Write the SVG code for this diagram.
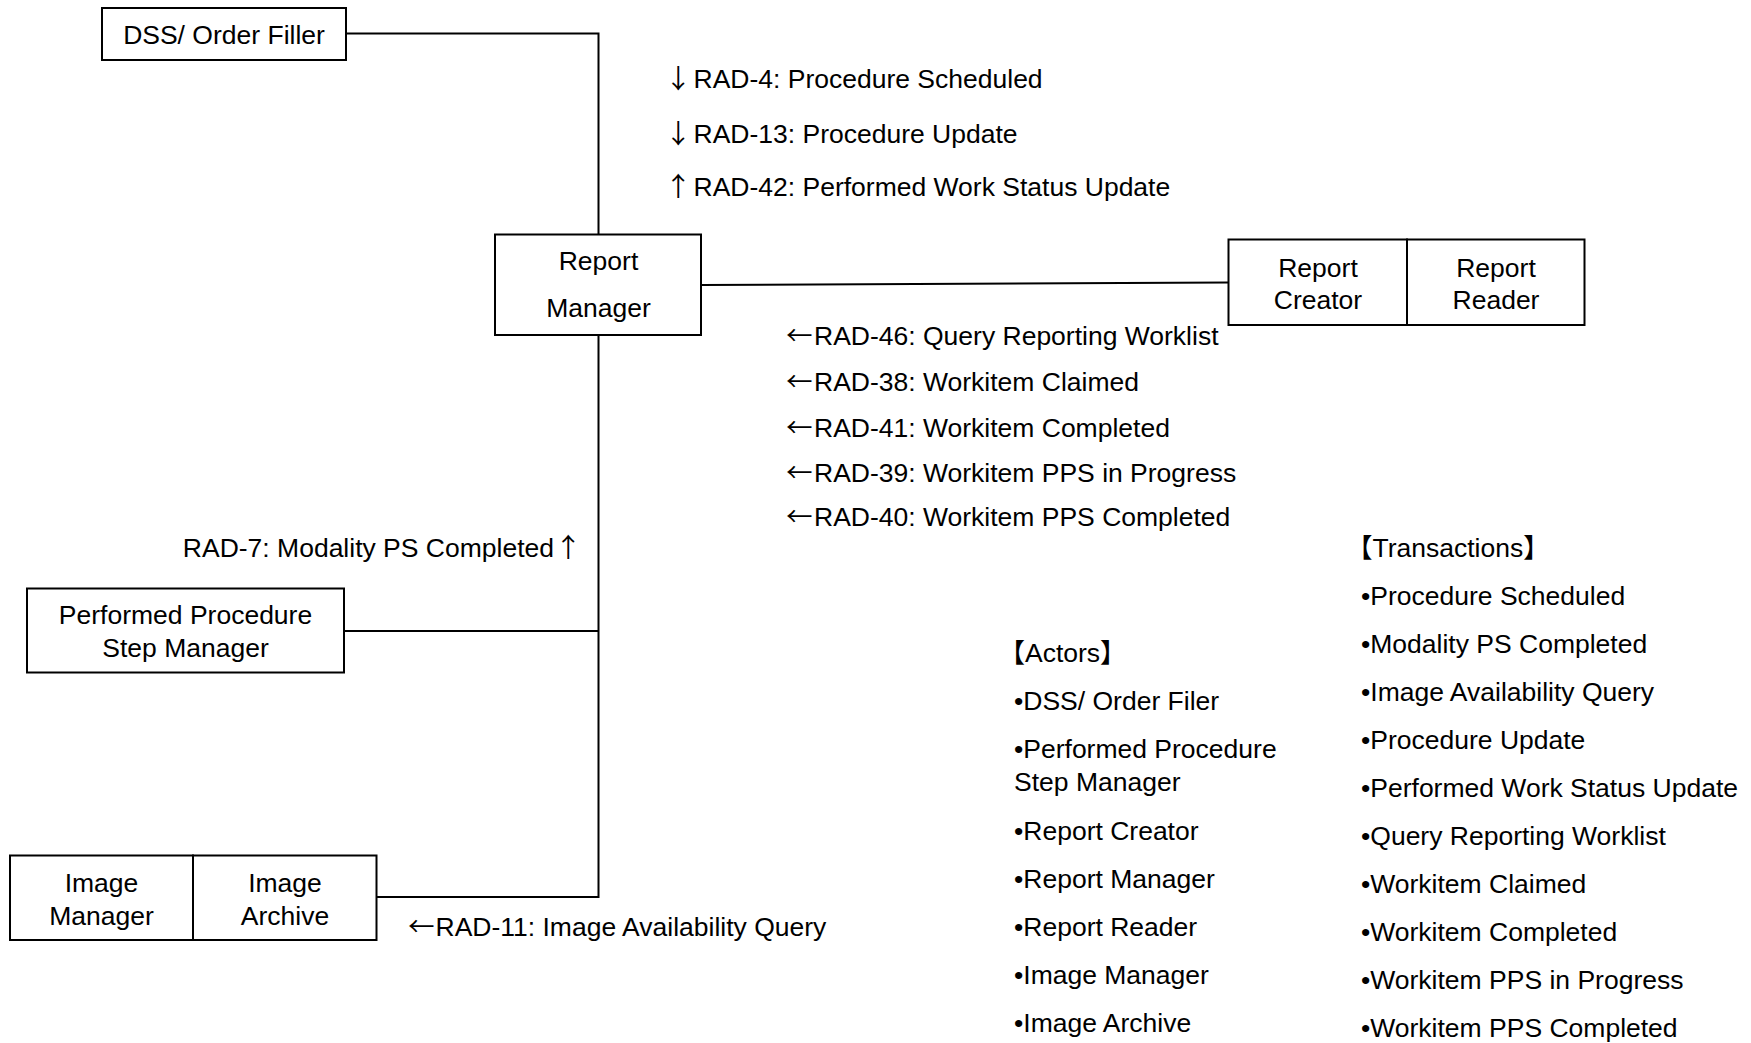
<svg xmlns="http://www.w3.org/2000/svg" width="1751" height="1043" viewBox="0 0 1751 1043">
<style>
text{font-family:"Liberation Sans",Arial,"Noto Sans CJK SC",sans-serif;font-size:26.5px;fill:#000}
.c{text-anchor:middle}
.ar{font-family:"Noto Sans CJK SC","Noto Sans CJK JP",sans-serif;font-weight:400}
.box{fill:#fff;stroke:#000;stroke-width:2}
.ln{fill:none;stroke:#000;stroke-width:2}
</style>
<rect width="1751" height="1043" fill="#fff"/>
<g id="connectors">
<polyline class="ln" points="346,33.5 598.5,33.5 598.5,234.5"/>
<line class="ln" x1="701" y1="285" x2="1228.5" y2="282.5"/>
<polyline class="ln" points="598.5,335 598.5,897 376.5,897"/>
<line class="ln" x1="344" y1="631" x2="598.5" y2="631"/>
</g>
<g id="dss">
<rect class="box" x="102" y="8" width="244" height="52"/>
<text class="c" x="224" y="44">DSS/ Order Filler</text>
</g>
<g id="report-manager">
<rect class="box" x="495" y="234.5" width="206" height="100.5"/>
<text class="c" x="598.5" y="270">Report</text>
<text class="c" x="598.5" y="317">Manager</text>
</g>
<g id="report-creator">
<rect class="box" x="1228.5" y="239.5" width="178.5" height="85.5"/>
<text class="c" x="1318" y="277">Report</text>
<text class="c" x="1318" y="309">Creator</text>
</g>
<g id="report-reader">
<rect class="box" x="1407" y="239.5" width="177.5" height="85.5"/>
<text class="c" x="1496" y="277">Report</text>
<text class="c" x="1496" y="309">Reader</text>
</g>
<g id="pps-manager">
<rect class="box" x="27" y="588.5" width="317" height="84"/>
<text class="c" x="185.5" y="624">Performed Procedure</text>
<text class="c" x="185.5" y="656.5">Step Manager</text>
</g>
<g id="image-manager">
<rect class="box" x="10" y="855.5" width="183" height="84.5"/>
<text class="c" x="101.5" y="892">Image</text>
<text class="c" x="101.5" y="924.5">Manager</text>
</g>
<g id="image-archive">
<rect class="box" x="193" y="855.5" width="183.5" height="84.5"/>
<text class="c" x="285" y="892">Image</text>
<text class="c" x="285" y="924.5">Archive</text>
</g>
<g id="labels">
<text y="88"><tspan class="ar" x="665">↓</tspan><tspan x="693.5">RAD-4: Procedure Scheduled</tspan></text>
<text y="143"><tspan class="ar" x="665">↓</tspan><tspan x="693.5">RAD-13: Procedure Update</tspan></text>
<text y="195.5"><tspan class="ar" x="665">↑</tspan><tspan x="693.5">RAD-42: Performed Work Status Update</tspan></text>
<text y="345"><tspan class="ar" x="786">←</tspan><tspan x="814">RAD-46: Query Reporting Worklist</tspan></text>
<text y="391"><tspan class="ar" x="786">←</tspan><tspan x="814">RAD-38: Workitem Claimed</tspan></text>
<text y="436.5"><tspan class="ar" x="786">←</tspan><tspan x="814">RAD-41: Workitem Completed</tspan></text>
<text y="481.5"><tspan class="ar" x="786">←</tspan><tspan x="814">RAD-39: Workitem PPS in Progress</tspan></text>
<text y="526"><tspan class="ar" x="786">←</tspan><tspan x="814">RAD-40: Workitem PPS Completed</tspan></text>
<text y="557"><tspan x="554" text-anchor="end">RAD-7: Modality PS Completed</tspan><tspan class="ar" x="555">↑</tspan></text>
<text y="936"><tspan class="ar" x="408">←</tspan><tspan x="435.5">RAD-11: Image Availability Query</tspan></text>
</g>
<g id="actors-legend">
<text x="998.5" y="662">【Actors】</text>
<text x="1014" y="710">•DSS/ Order Filer</text>
<text x="1014" y="758">•Performed Procedure</text>
<text x="1014" y="790.5">Step Manager</text>
<text x="1014" y="839.5">•Report Creator</text>
<text x="1014" y="887.5">•Report Manager</text>
<text x="1014" y="935.5">•Report Reader</text>
<text x="1014" y="983.5">•Image Manager</text>
<text x="1014" y="1031.5">•Image Archive</text>
</g>
<g id="transactions-legend">
<text x="1346" y="557">【Transactions】</text>
<text x="1361" y="605">•Procedure Scheduled</text>
<text x="1361" y="653">•Modality PS Completed</text>
<text x="1361" y="701">•Image Availability Query</text>
<text x="1361" y="749">•Procedure Update</text>
<text x="1361" y="797">•Performed Work Status Update</text>
<text x="1361" y="845">•Query Reporting Worklist</text>
<text x="1361" y="893">•Workitem Claimed</text>
<text x="1361" y="941">•Workitem Completed</text>
<text x="1361" y="989">•Workitem PPS in Progress</text>
<text x="1361" y="1037">•Workitem PPS Completed</text>
</g>
</svg>
